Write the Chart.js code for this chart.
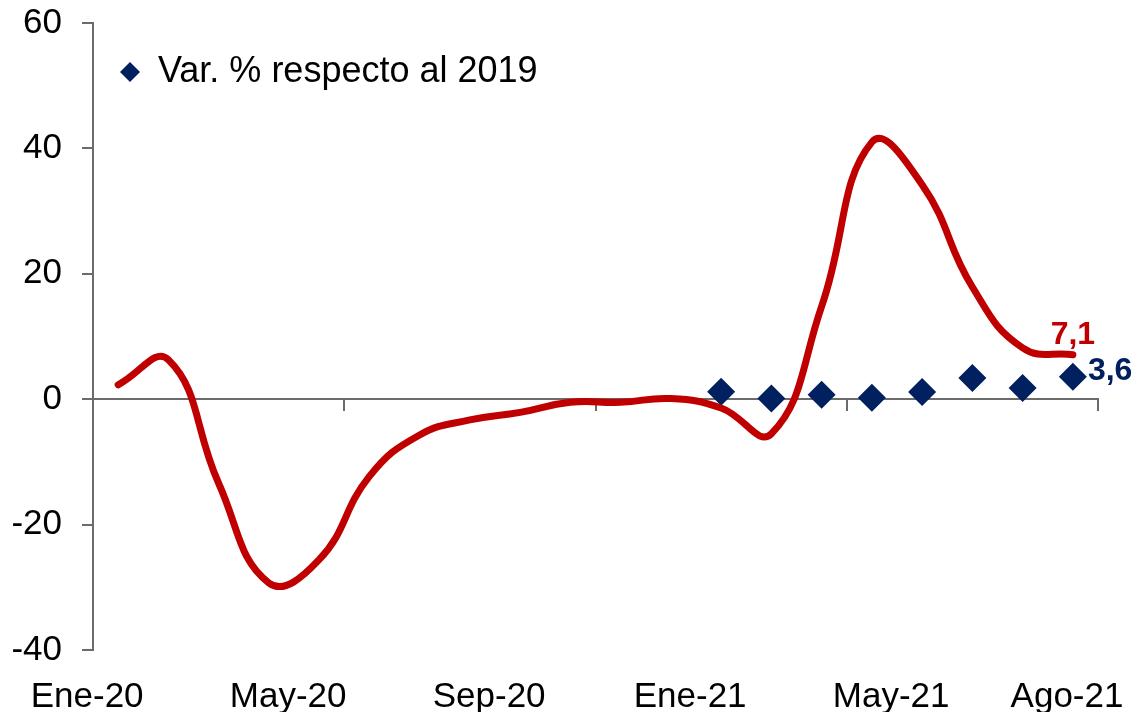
<!DOCTYPE html>
<html>
<head>
<meta charset="utf-8">
<title>Var. % respecto al 2019</title>
<script src="https://cdn.jsdelivr.net/npm/chart.js@4"></script>
<style>
  body { margin: 0; background: #fff; }
</style>
</head>
<body>
<canvas id="myChart" width="1140" height="712"></canvas>
<script>
var months = ['Ene-20','Feb-20','Mar-20','Abr-20','May-20','Jun-20','Jul-20','Ago-20','Sep-20','Oct-20','Nov-20','Dic-20',
              'Ene-21','Feb-21','Mar-21','Abr-21','May-21','Jun-21','Jul-21','Ago-21'];
var tickLabels = ['Ene-20','May-20','Sep-20','Ene-21','May-21','Ago-21'];
var monthlyVar = [2.3, 6.3, -13.4, -29.3, -25.6, -12.3, -5.7, -3.3, -2.1, -0.5, -0.5, 0.1,
                  -1.4, -5.5, 14.8, 41.0, 34.2, 17.9, 8.2, 7.1];
var vs2019 = [null, null, null, null, null, null, null, null, null, null, null, null,
              1.2, 0.1, 0.7, 0.25, 1.15, 3.4, 1.8, 3.6];

var RED = '#C00000';
var NAVY = '#002060';
var AXIS = '#6b6b6b';

Chart.defaults.font.family = "'Liberation Sans', Arial, sans-serif";
Chart.defaults.color = '#000';

function fmt(v) { return v.toFixed(1).replace('.', ','); }

// value tags at the last point of each series
var endLabels = {
  id: 'endLabels',
  afterDatasetsDraw: function(chart) {
    var ctx = chart.ctx;
    ctx.save();
    ctx.font = "bold 32px 'Liberation Sans', Arial, sans-serif";
    ctx.textBaseline = 'alphabetic';

    var red = chart.getDatasetMeta(0).data;
    var p = red[red.length - 1];
    ctx.fillStyle = RED;
    ctx.textAlign = 'center';
    ctx.fillText(fmt(monthlyVar[monthlyVar.length - 1]), p.x, p.y - 11);

    var blue = chart.getDatasetMeta(1).data;
    var q = blue[blue.length - 1];
    ctx.fillStyle = NAVY;
    ctx.textAlign = 'left';
    ctx.fillText(fmt(vs2019[vs2019.length - 1]), q.x + 15, q.y + 3);
    ctx.restore();
  }
};

// keep the plot box fixed: no extra room reserved by the axes
function noPad(scale) {
  scale.paddingTop = 0;
  scale.paddingBottom = 0;
  scale.paddingLeft = 0;
  scale.paddingRight = 0;
}

var ctx = document.getElementById('myChart').getContext('2d');
var myChart = new Chart(ctx, {
  type: 'line',
  data: {
    labels: months,
    datasets: [{
      label: 'Var. % mensual',
      data: monthlyVar,
      borderColor: RED,
      borderWidth: 7,
      borderCapStyle: 'round',
      borderJoinStyle: 'round',
      tension: 0.45,
      pointRadius: 0,
      fill: false,
      clip: false
    }, {
      label: 'Var. % respecto al 2019',
      data: vs2019,
      showLine: false,
      pointStyle: 'rectRot',
      pointRadius: 14,
      pointBackgroundColor: NAVY,
      pointBorderWidth: 0,
      backgroundColor: NAVY,
      borderColor: NAVY,
      clip: false
    }]
  },
  options: {
    responsive: false,
    animation: false,
    devicePixelRatio: 1,
    layout: { padding: { top: 23, right: 42, bottom: 0, left: 0 } },
    plugins: {
      tooltip: { enabled: false },
      legend: {
        position: 'chartArea',
        align: 'start',
        // empty title only pushes the legend row down a bit
        title: {
          display: true,
          text: ' ',
          font: { size: 10 },
          padding: { top: 15, bottom: 0 }
        },
        labels: {
          filter: function(item) { return item.datasetIndex === 1; },
          usePointStyle: true,
          pointStyleWidth: 20,
          boxHeight: 14,
          padding: 27,
          color: '#000',
          font: { size: 36 }
        }
      }
    },
    scales: {
      x: {
        type: 'category',
        position: 'bottom',
        offset: true,
        grid: { display: false },
        border: { display: false },
        afterFit: function(scale) {
          noPad(scale);
          scale.height = 62;
        },
        afterBuildTicks: function(scale) {
          scale.ticks = tickLabels.map(function(lbl, i) {
            var v = months.indexOf(lbl);
            // the closing month sits under the end of the axis
            if (i === tickLabels.length - 1) v += 0.5;
            return { value: v };
          });
        },
        ticks: {
          autoSkip: false,
          maxRotation: 0,
          padding: 18,
          labelOffset: -31,
          font: { size: 35 },
          callback: function(val, i) { return tickLabels[i]; }
        }
      },
      x2: {
        type: 'category',
        position: { y: 0 },
        offset: true,
        afterFit: function(scale) {
          noPad(scale);
          scale.height = 0;
        },
        grid: {
          offset: true,
          drawOnChartArea: false,
          drawTicks: true,
          tickLength: 11,
          lineWidth: 2,
          color: function(c) {
            return (c.index === undefined || c.index % 5 === 0) ? AXIS : 'rgba(0,0,0,0)';
          }
        },
        border: { display: true, color: AXIS, width: 2 },
        ticks: { display: false, autoSkip: false }
      },
      y: {
        min: -40,
        max: 60,
        afterFit: function(scale) {
          noPad(scale);
          scale.width = 93;
        },
        grid: {
          drawOnChartArea: false,
          drawTicks: true,
          tickLength: 11,
          lineWidth: 2,
          color: AXIS
        },
        border: { display: true, color: AXIS, width: 2 },
        ticks: {
          stepSize: 20,
          padding: 20,
          font: { size: 35 }
        }
      }
    }
  },
  plugins: [endLabels]
});
</script>
</body>
</html>
